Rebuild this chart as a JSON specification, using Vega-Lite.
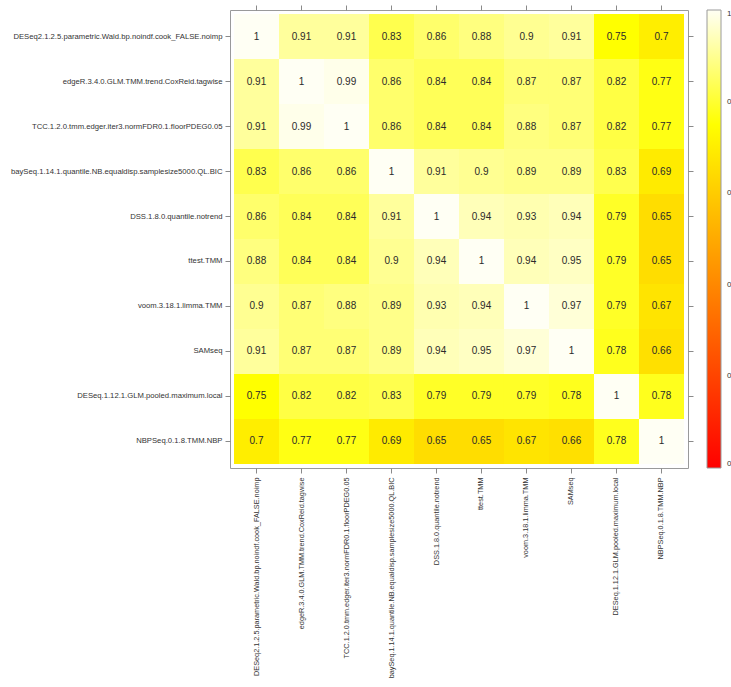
{
  "$schema": "https://vega.github.io/schema/vega-lite/v6.json",
  "width": 458,
  "height": 458,
  "autosize": {"type": "none"},
  "padding": {"left": 230, "top": 10, "right": 43, "bottom": 219},
  "background": "white",
  "config": {
    "view": {"stroke": "#9a9a9a", "strokeWidth": 1},
    "font": "Liberation Sans",
    "axis": {"grid": false, "domain": false, "tickColor": "#8a8a8a", "tickSize": 5, "labelColor": "#333333", "labelFont": "Liberation Sans", "labelFontSize": 7.7, "labelPadding": 3, "title": null}
  },
  "data": {"values": [
    {"row": "DESeq2.1.2.5.parametric.Wald.bp.noindf.cook_FALSE.noimp", "col": "DESeq2.1.2.5.parametric.Wald.bp.noindf.cook_FALSE.noimp", "value": 1},
    {"row": "DESeq2.1.2.5.parametric.Wald.bp.noindf.cook_FALSE.noimp", "col": "edgeR.3.4.0.GLM.TMM.trend.CoxReid.tagwise", "value": 0.91},
    {"row": "DESeq2.1.2.5.parametric.Wald.bp.noindf.cook_FALSE.noimp", "col": "TCC.1.2.0.tmm.edger.iter3.normFDR0.1.floorPDEG0.05", "value": 0.91},
    {"row": "DESeq2.1.2.5.parametric.Wald.bp.noindf.cook_FALSE.noimp", "col": "baySeq.1.14.1.quantile.NB.equaldisp.samplesize5000.QL.BIC", "value": 0.83},
    {"row": "DESeq2.1.2.5.parametric.Wald.bp.noindf.cook_FALSE.noimp", "col": "DSS.1.8.0.quantile.notrend", "value": 0.86},
    {"row": "DESeq2.1.2.5.parametric.Wald.bp.noindf.cook_FALSE.noimp", "col": "ttest.TMM", "value": 0.88},
    {"row": "DESeq2.1.2.5.parametric.Wald.bp.noindf.cook_FALSE.noimp", "col": "voom.3.18.1.limma.TMM", "value": 0.9},
    {"row": "DESeq2.1.2.5.parametric.Wald.bp.noindf.cook_FALSE.noimp", "col": "SAMseq", "value": 0.91},
    {"row": "DESeq2.1.2.5.parametric.Wald.bp.noindf.cook_FALSE.noimp", "col": "DESeq.1.12.1.GLM.pooled.maximum.local", "value": 0.75},
    {"row": "DESeq2.1.2.5.parametric.Wald.bp.noindf.cook_FALSE.noimp", "col": "NBPSeq.0.1.8.TMM.NBP", "value": 0.7},

    {"row": "edgeR.3.4.0.GLM.TMM.trend.CoxReid.tagwise", "col": "DESeq2.1.2.5.parametric.Wald.bp.noindf.cook_FALSE.noimp", "value": 0.91},
    {"row": "edgeR.3.4.0.GLM.TMM.trend.CoxReid.tagwise", "col": "edgeR.3.4.0.GLM.TMM.trend.CoxReid.tagwise", "value": 1},
    {"row": "edgeR.3.4.0.GLM.TMM.trend.CoxReid.tagwise", "col": "TCC.1.2.0.tmm.edger.iter3.normFDR0.1.floorPDEG0.05", "value": 0.99},
    {"row": "edgeR.3.4.0.GLM.TMM.trend.CoxReid.tagwise", "col": "baySeq.1.14.1.quantile.NB.equaldisp.samplesize5000.QL.BIC", "value": 0.86},
    {"row": "edgeR.3.4.0.GLM.TMM.trend.CoxReid.tagwise", "col": "DSS.1.8.0.quantile.notrend", "value": 0.84},
    {"row": "edgeR.3.4.0.GLM.TMM.trend.CoxReid.tagwise", "col": "ttest.TMM", "value": 0.84},
    {"row": "edgeR.3.4.0.GLM.TMM.trend.CoxReid.tagwise", "col": "voom.3.18.1.limma.TMM", "value": 0.87},
    {"row": "edgeR.3.4.0.GLM.TMM.trend.CoxReid.tagwise", "col": "SAMseq", "value": 0.87},
    {"row": "edgeR.3.4.0.GLM.TMM.trend.CoxReid.tagwise", "col": "DESeq.1.12.1.GLM.pooled.maximum.local", "value": 0.82},
    {"row": "edgeR.3.4.0.GLM.TMM.trend.CoxReid.tagwise", "col": "NBPSeq.0.1.8.TMM.NBP", "value": 0.77},

    {"row": "TCC.1.2.0.tmm.edger.iter3.normFDR0.1.floorPDEG0.05", "col": "DESeq2.1.2.5.parametric.Wald.bp.noindf.cook_FALSE.noimp", "value": 0.91},
    {"row": "TCC.1.2.0.tmm.edger.iter3.normFDR0.1.floorPDEG0.05", "col": "edgeR.3.4.0.GLM.TMM.trend.CoxReid.tagwise", "value": 0.99},
    {"row": "TCC.1.2.0.tmm.edger.iter3.normFDR0.1.floorPDEG0.05", "col": "TCC.1.2.0.tmm.edger.iter3.normFDR0.1.floorPDEG0.05", "value": 1},
    {"row": "TCC.1.2.0.tmm.edger.iter3.normFDR0.1.floorPDEG0.05", "col": "baySeq.1.14.1.quantile.NB.equaldisp.samplesize5000.QL.BIC", "value": 0.86},
    {"row": "TCC.1.2.0.tmm.edger.iter3.normFDR0.1.floorPDEG0.05", "col": "DSS.1.8.0.quantile.notrend", "value": 0.84},
    {"row": "TCC.1.2.0.tmm.edger.iter3.normFDR0.1.floorPDEG0.05", "col": "ttest.TMM", "value": 0.84},
    {"row": "TCC.1.2.0.tmm.edger.iter3.normFDR0.1.floorPDEG0.05", "col": "voom.3.18.1.limma.TMM", "value": 0.88},
    {"row": "TCC.1.2.0.tmm.edger.iter3.normFDR0.1.floorPDEG0.05", "col": "SAMseq", "value": 0.87},
    {"row": "TCC.1.2.0.tmm.edger.iter3.normFDR0.1.floorPDEG0.05", "col": "DESeq.1.12.1.GLM.pooled.maximum.local", "value": 0.82},
    {"row": "TCC.1.2.0.tmm.edger.iter3.normFDR0.1.floorPDEG0.05", "col": "NBPSeq.0.1.8.TMM.NBP", "value": 0.77},

    {"row": "baySeq.1.14.1.quantile.NB.equaldisp.samplesize5000.QL.BIC", "col": "DESeq2.1.2.5.parametric.Wald.bp.noindf.cook_FALSE.noimp", "value": 0.83},
    {"row": "baySeq.1.14.1.quantile.NB.equaldisp.samplesize5000.QL.BIC", "col": "edgeR.3.4.0.GLM.TMM.trend.CoxReid.tagwise", "value": 0.86},
    {"row": "baySeq.1.14.1.quantile.NB.equaldisp.samplesize5000.QL.BIC", "col": "TCC.1.2.0.tmm.edger.iter3.normFDR0.1.floorPDEG0.05", "value": 0.86},
    {"row": "baySeq.1.14.1.quantile.NB.equaldisp.samplesize5000.QL.BIC", "col": "baySeq.1.14.1.quantile.NB.equaldisp.samplesize5000.QL.BIC", "value": 1},
    {"row": "baySeq.1.14.1.quantile.NB.equaldisp.samplesize5000.QL.BIC", "col": "DSS.1.8.0.quantile.notrend", "value": 0.91},
    {"row": "baySeq.1.14.1.quantile.NB.equaldisp.samplesize5000.QL.BIC", "col": "ttest.TMM", "value": 0.9},
    {"row": "baySeq.1.14.1.quantile.NB.equaldisp.samplesize5000.QL.BIC", "col": "voom.3.18.1.limma.TMM", "value": 0.89},
    {"row": "baySeq.1.14.1.quantile.NB.equaldisp.samplesize5000.QL.BIC", "col": "SAMseq", "value": 0.89},
    {"row": "baySeq.1.14.1.quantile.NB.equaldisp.samplesize5000.QL.BIC", "col": "DESeq.1.12.1.GLM.pooled.maximum.local", "value": 0.83},
    {"row": "baySeq.1.14.1.quantile.NB.equaldisp.samplesize5000.QL.BIC", "col": "NBPSeq.0.1.8.TMM.NBP", "value": 0.69},

    {"row": "DSS.1.8.0.quantile.notrend", "col": "DESeq2.1.2.5.parametric.Wald.bp.noindf.cook_FALSE.noimp", "value": 0.86},
    {"row": "DSS.1.8.0.quantile.notrend", "col": "edgeR.3.4.0.GLM.TMM.trend.CoxReid.tagwise", "value": 0.84},
    {"row": "DSS.1.8.0.quantile.notrend", "col": "TCC.1.2.0.tmm.edger.iter3.normFDR0.1.floorPDEG0.05", "value": 0.84},
    {"row": "DSS.1.8.0.quantile.notrend", "col": "baySeq.1.14.1.quantile.NB.equaldisp.samplesize5000.QL.BIC", "value": 0.91},
    {"row": "DSS.1.8.0.quantile.notrend", "col": "DSS.1.8.0.quantile.notrend", "value": 1},
    {"row": "DSS.1.8.0.quantile.notrend", "col": "ttest.TMM", "value": 0.94},
    {"row": "DSS.1.8.0.quantile.notrend", "col": "voom.3.18.1.limma.TMM", "value": 0.93},
    {"row": "DSS.1.8.0.quantile.notrend", "col": "SAMseq", "value": 0.94},
    {"row": "DSS.1.8.0.quantile.notrend", "col": "DESeq.1.12.1.GLM.pooled.maximum.local", "value": 0.79},
    {"row": "DSS.1.8.0.quantile.notrend", "col": "NBPSeq.0.1.8.TMM.NBP", "value": 0.65},

    {"row": "ttest.TMM", "col": "DESeq2.1.2.5.parametric.Wald.bp.noindf.cook_FALSE.noimp", "value": 0.88},
    {"row": "ttest.TMM", "col": "edgeR.3.4.0.GLM.TMM.trend.CoxReid.tagwise", "value": 0.84},
    {"row": "ttest.TMM", "col": "TCC.1.2.0.tmm.edger.iter3.normFDR0.1.floorPDEG0.05", "value": 0.84},
    {"row": "ttest.TMM", "col": "baySeq.1.14.1.quantile.NB.equaldisp.samplesize5000.QL.BIC", "value": 0.9},
    {"row": "ttest.TMM", "col": "DSS.1.8.0.quantile.notrend", "value": 0.94},
    {"row": "ttest.TMM", "col": "ttest.TMM", "value": 1},
    {"row": "ttest.TMM", "col": "voom.3.18.1.limma.TMM", "value": 0.94},
    {"row": "ttest.TMM", "col": "SAMseq", "value": 0.95},
    {"row": "ttest.TMM", "col": "DESeq.1.12.1.GLM.pooled.maximum.local", "value": 0.79},
    {"row": "ttest.TMM", "col": "NBPSeq.0.1.8.TMM.NBP", "value": 0.65},

    {"row": "voom.3.18.1.limma.TMM", "col": "DESeq2.1.2.5.parametric.Wald.bp.noindf.cook_FALSE.noimp", "value": 0.9},
    {"row": "voom.3.18.1.limma.TMM", "col": "edgeR.3.4.0.GLM.TMM.trend.CoxReid.tagwise", "value": 0.87},
    {"row": "voom.3.18.1.limma.TMM", "col": "TCC.1.2.0.tmm.edger.iter3.normFDR0.1.floorPDEG0.05", "value": 0.88},
    {"row": "voom.3.18.1.limma.TMM", "col": "baySeq.1.14.1.quantile.NB.equaldisp.samplesize5000.QL.BIC", "value": 0.89},
    {"row": "voom.3.18.1.limma.TMM", "col": "DSS.1.8.0.quantile.notrend", "value": 0.93},
    {"row": "voom.3.18.1.limma.TMM", "col": "ttest.TMM", "value": 0.94},
    {"row": "voom.3.18.1.limma.TMM", "col": "voom.3.18.1.limma.TMM", "value": 1},
    {"row": "voom.3.18.1.limma.TMM", "col": "SAMseq", "value": 0.97},
    {"row": "voom.3.18.1.limma.TMM", "col": "DESeq.1.12.1.GLM.pooled.maximum.local", "value": 0.79},
    {"row": "voom.3.18.1.limma.TMM", "col": "NBPSeq.0.1.8.TMM.NBP", "value": 0.67},

    {"row": "SAMseq", "col": "DESeq2.1.2.5.parametric.Wald.bp.noindf.cook_FALSE.noimp", "value": 0.91},
    {"row": "SAMseq", "col": "edgeR.3.4.0.GLM.TMM.trend.CoxReid.tagwise", "value": 0.87},
    {"row": "SAMseq", "col": "TCC.1.2.0.tmm.edger.iter3.normFDR0.1.floorPDEG0.05", "value": 0.87},
    {"row": "SAMseq", "col": "baySeq.1.14.1.quantile.NB.equaldisp.samplesize5000.QL.BIC", "value": 0.89},
    {"row": "SAMseq", "col": "DSS.1.8.0.quantile.notrend", "value": 0.94},
    {"row": "SAMseq", "col": "ttest.TMM", "value": 0.95},
    {"row": "SAMseq", "col": "voom.3.18.1.limma.TMM", "value": 0.97},
    {"row": "SAMseq", "col": "SAMseq", "value": 1},
    {"row": "SAMseq", "col": "DESeq.1.12.1.GLM.pooled.maximum.local", "value": 0.78},
    {"row": "SAMseq", "col": "NBPSeq.0.1.8.TMM.NBP", "value": 0.66},

    {"row": "DESeq.1.12.1.GLM.pooled.maximum.local", "col": "DESeq2.1.2.5.parametric.Wald.bp.noindf.cook_FALSE.noimp", "value": 0.75},
    {"row": "DESeq.1.12.1.GLM.pooled.maximum.local", "col": "edgeR.3.4.0.GLM.TMM.trend.CoxReid.tagwise", "value": 0.82},
    {"row": "DESeq.1.12.1.GLM.pooled.maximum.local", "col": "TCC.1.2.0.tmm.edger.iter3.normFDR0.1.floorPDEG0.05", "value": 0.82},
    {"row": "DESeq.1.12.1.GLM.pooled.maximum.local", "col": "baySeq.1.14.1.quantile.NB.equaldisp.samplesize5000.QL.BIC", "value": 0.83},
    {"row": "DESeq.1.12.1.GLM.pooled.maximum.local", "col": "DSS.1.8.0.quantile.notrend", "value": 0.79},
    {"row": "DESeq.1.12.1.GLM.pooled.maximum.local", "col": "ttest.TMM", "value": 0.79},
    {"row": "DESeq.1.12.1.GLM.pooled.maximum.local", "col": "voom.3.18.1.limma.TMM", "value": 0.79},
    {"row": "DESeq.1.12.1.GLM.pooled.maximum.local", "col": "SAMseq", "value": 0.78},
    {"row": "DESeq.1.12.1.GLM.pooled.maximum.local", "col": "DESeq.1.12.1.GLM.pooled.maximum.local", "value": 1},
    {"row": "DESeq.1.12.1.GLM.pooled.maximum.local", "col": "NBPSeq.0.1.8.TMM.NBP", "value": 0.78},

    {"row": "NBPSeq.0.1.8.TMM.NBP", "col": "DESeq2.1.2.5.parametric.Wald.bp.noindf.cook_FALSE.noimp", "value": 0.7},
    {"row": "NBPSeq.0.1.8.TMM.NBP", "col": "edgeR.3.4.0.GLM.TMM.trend.CoxReid.tagwise", "value": 0.77},
    {"row": "NBPSeq.0.1.8.TMM.NBP", "col": "TCC.1.2.0.tmm.edger.iter3.normFDR0.1.floorPDEG0.05", "value": 0.77},
    {"row": "NBPSeq.0.1.8.TMM.NBP", "col": "baySeq.1.14.1.quantile.NB.equaldisp.samplesize5000.QL.BIC", "value": 0.69},
    {"row": "NBPSeq.0.1.8.TMM.NBP", "col": "DSS.1.8.0.quantile.notrend", "value": 0.65},
    {"row": "NBPSeq.0.1.8.TMM.NBP", "col": "ttest.TMM", "value": 0.65},
    {"row": "NBPSeq.0.1.8.TMM.NBP", "col": "voom.3.18.1.limma.TMM", "value": 0.67},
    {"row": "NBPSeq.0.1.8.TMM.NBP", "col": "SAMseq", "value": 0.66},
    {"row": "NBPSeq.0.1.8.TMM.NBP", "col": "DESeq.1.12.1.GLM.pooled.maximum.local", "value": 0.78},
    {"row": "NBPSeq.0.1.8.TMM.NBP", "col": "NBPSeq.0.1.8.TMM.NBP", "value": 1}
  ]},
  "layer": [
    {
      "mark": {"type": "rect"},
      "encoding": {
        "x": {"field": "col", "type": "nominal", "sort": null,
          "scale": {"domain": ["DESeq2.1.2.5.parametric.Wald.bp.noindf.cook_FALSE.noimp", "edgeR.3.4.0.GLM.TMM.trend.CoxReid.tagwise", "TCC.1.2.0.tmm.edger.iter3.normFDR0.1.floorPDEG0.05", "baySeq.1.14.1.quantile.NB.equaldisp.samplesize5000.QL.BIC", "DSS.1.8.0.quantile.notrend", "ttest.TMM", "voom.3.18.1.limma.TMM", "SAMseq", "DESeq.1.12.1.GLM.pooled.maximum.local", "NBPSeq.0.1.8.TMM.NBP"], "paddingInner": 0, "paddingOuter": 0.089},
          "axis": {"orient": "bottom", "labelAngle": -90, "labelPadding": 4, "labelLimit": 0, "labelFontSize": 7.3}},
        "y": {"field": "row", "type": "nominal", "sort": null,
          "scale": {"domain": ["DESeq2.1.2.5.parametric.Wald.bp.noindf.cook_FALSE.noimp", "edgeR.3.4.0.GLM.TMM.trend.CoxReid.tagwise", "TCC.1.2.0.tmm.edger.iter3.normFDR0.1.floorPDEG0.05", "baySeq.1.14.1.quantile.NB.equaldisp.samplesize5000.QL.BIC", "DSS.1.8.0.quantile.notrend", "ttest.TMM", "voom.3.18.1.limma.TMM", "SAMseq", "DESeq.1.12.1.GLM.pooled.maximum.local", "NBPSeq.0.1.8.TMM.NBP"], "paddingInner": 0, "paddingOuter": 0.089},
          "axis": {"orient": "left", "labelLimit": 0}},
        "color": {"field": "value", "type": "quantitative",
          "scale": {"domain": [0, 0.75, 1], "range": ["#ff0000", "#ffff00", "#fffff4"], "interpolate": "rgb"},
          "legend": {"orient": "none", "legendX": 477, "legendY": 0, "direction": "vertical", "gradientLength": 458, "gradientThickness": 14, "gradientStrokeColor": "#9a9a9a", "gradientStrokeWidth": 1, "values": [0, 0.2, 0.4, 0.6, 0.8, 1], "labelFontSize": 8, "labelColor": "#333333", "labelOffset": 6, "title": null, "padding": 0}}
      }
    },
    {
      "mark": {"type": "text", "fontSize": 10, "color": "#2a2a2a", "font": "Liberation Sans"},
      "encoding": {
        "x": {"field": "col", "type": "nominal", "sort": null, "axis": {"orient": "top", "labels": false}},
        "y": {"field": "row", "type": "nominal", "sort": null, "axis": {"orient": "right", "labels": false}},
        "text": {"field": "value", "type": "quantitative", "format": "~g"}
      }
    }
  ],
  "resolve": {"axis": {"x": "independent", "y": "independent"}}
}
